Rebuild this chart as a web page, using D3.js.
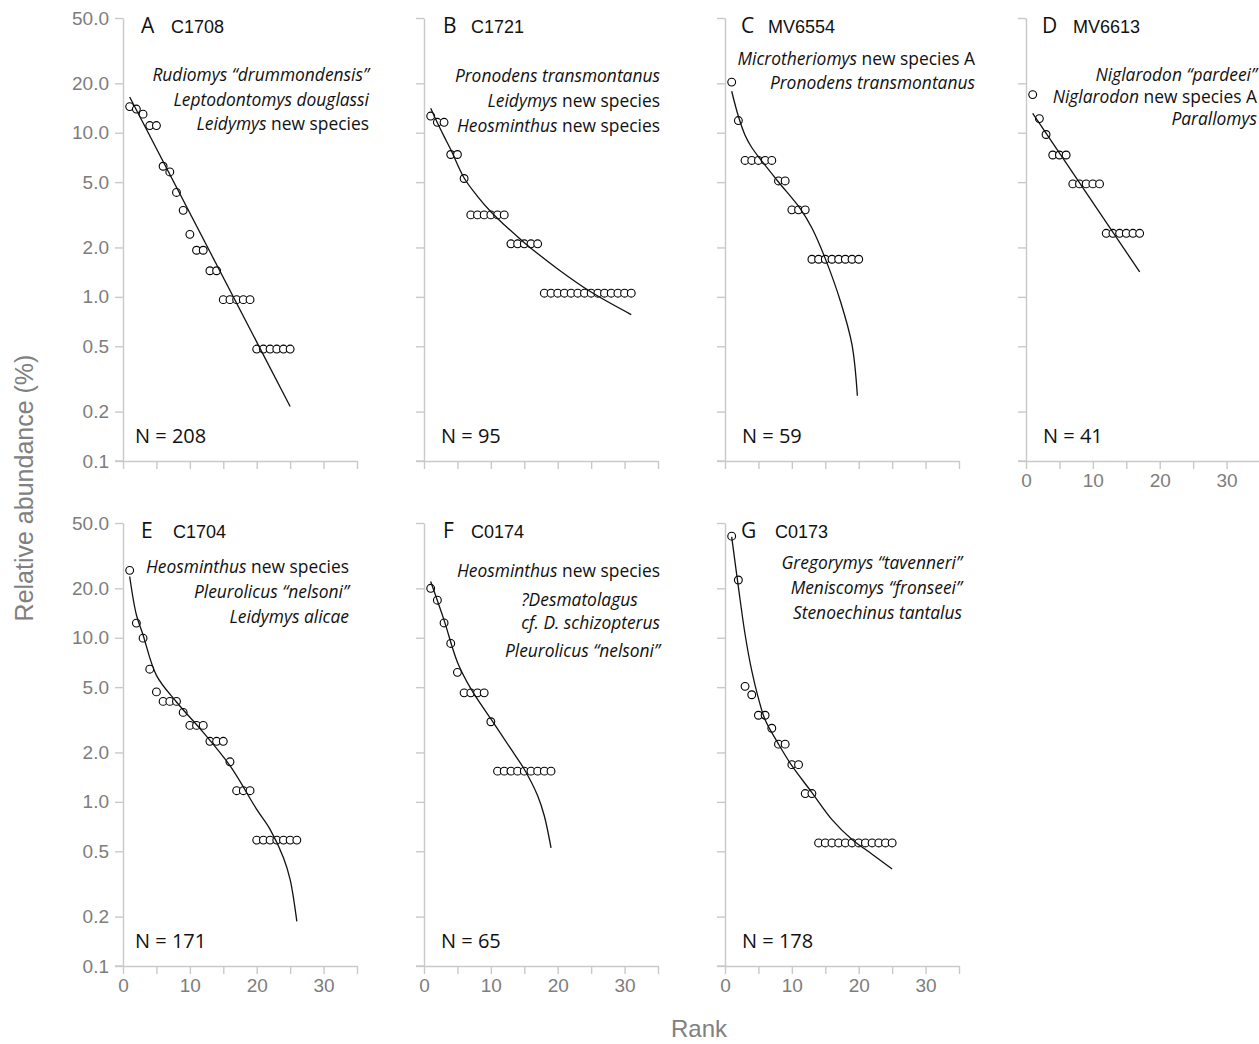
<!DOCTYPE html>
<html>
<head>
<meta charset="utf-8">
<script src="https://cdn.jsdelivr.net/npm/d3@7"></script>
<style>
  body { margin: 0; background: #fff; }
  svg { display: block; }
</style>
</head>
<body>
<svg id="chart" width="1259" height="1044"></svg>
<script>
// ---------------- DATA ----------------
const panelLetters = ["A", "B", "C", "D", "E", "F", "G"];
const localities = ["C1708", "C1721", "MV6554", "MV6613", "C1704", "C0174", "C0173"];
const sampleSizes = [208, 95, 59, 41, 171, 65, 178];

// specimen counts per species, in rank order (relative abundance = count / N)
const countsA = [30, 29, 27, 23, 23, 13, 12, 9, 7, 5, 4, 4, 3, 3, 2, 2, 2, 2, 2, 1, 1, 1, 1, 1, 1];
const countsB = [12, 11, 11, 7, 7, 5, 3, 3, 3, 3, 3, 3, 2, 2, 2, 2, 2, 1, 1, 1, 1, 1, 1, 1, 1, 1, 1, 1, 1, 1, 1];
const countsC = [12, 7, 4, 4, 4, 4, 4, 3, 3, 2, 2, 2, 1, 1, 1, 1, 1, 1, 1, 1];
const countsD = [7, 5, 4, 3, 3, 3, 2, 2, 2, 2, 2, 1, 1, 1, 1, 1, 1];
const countsE = [44, 21, 17, 11, 8, 7, 7, 7, 6, 5, 5, 5, 4, 4, 4, 3, 2, 2, 2, 1, 1, 1, 1, 1, 1, 1];
const countsF = [13, 11, 8, 6, 4, 3, 3, 3, 3, 2, 1, 1, 1, 1, 1, 1, 1, 1, 1];
const countsG = [74, 40, 9, 8, 6, 6, 5, 4, 4, 3, 3, 2, 2, 1, 1, 1, 1, 1, 1, 1, 1, 1, 1, 1, 1];

// fitted model curves (rank, relative abundance %)
const fitRanksA = [1, 25];
const fitValuesA = [16.5, 0.215];
const fitRanksB = [1, 2, 3, 4, 6, 8, 10, 12, 15, 20, 25, 31];
const fitValuesB = [14.1, 11.5, 9.5, 7.9, 5.3, 4.1, 3.3, 2.75, 2.14, 1.48, 1.07, 0.78];
const fitRanksC = [1, 2, 3, 4, 5.4, 8, 11.3, 13, 15, 17.3, 19, 19.8];
const fitValuesC = [17.9, 12.6, 9.66, 8.13, 6.81, 5.01, 3.43, 2.63, 1.71, 0.93, 0.51, 0.25];
const fitRanksD = [1, 17];
const fitValuesD = [13.1, 1.42];
const fitRanksE = [1, 2, 3, 5, 8, 12, 16, 20, 22, 24, 25, 26];
const fitValuesE = [23.6, 13.8, 10.4, 5.9, 4.06, 2.65, 1.66, 0.90, 0.68, 0.457, 0.336, 0.187];
const fitRanksF = [1, 3, 5, 7, 10, 13, 15, 17, 18, 19];
const fitValuesF = [22.0, 12.8, 7.1, 4.9, 3.2, 2.1, 1.58, 1.09, 0.82, 0.525];
const fitRanksG = [1, 2, 3, 4, 5, 6, 8, 10, 13, 16, 19, 22, 25];
const fitValuesG = [41.2, 20.4, 10.5, 6.3, 4.27, 3.16, 2.25, 1.66, 1.14, 0.78, 0.59, 0.48, 0.39];

// dominant species labels: each line is a list of [text, italic]
const speciesA = [[["Rudiomys \u201Cdrummondensis\u201D", true]], [["Leptodontomys douglassi", true]], [["Leidymys", true], [" new species", false]]];
const speciesB = [[["Pronodens transmontanus", true]], [["Leidymys", true], [" new species", false]], [["Heosminthus", true], [" new species", false]]];
const speciesC = [[["Microtheriomys", true], [" new species A", false]], [["Pronodens transmontanus", true]]];
const speciesD = [[["Niglarodon \u201Cpardeei\u201D", true]], [["Niglarodon", true], [" new species A", false]], [["Parallomys", true]]];
const speciesE = [[["Heosminthus", true], [" new species", false]], [["Pleurolicus \u201Cnelsoni\u201D", true]], [["Leidymys alicae", true]]];
const speciesF = [[["Heosminthus", true], [" new species", false]], [["?Desmatolagus", true]], [["cf. D. schizopterus", true]], [["Pleurolicus \u201Cnelsoni\u201D", true]]];
const speciesG = [[["Gregorymys \u201Ctavenneri\u201D", true]], [["Meniscomys \u201Cfronseei\u201D", true]], [["Stenoechinus tantalus", true]]];

const yTickValues = [50, 20, 10, 5, 2, 1, 0.5, 0.2, 0.1];
const xTickValues = [0, 5, 10, 15, 20, 25, 30, 35];
const xTickLabelValues = [0, 10, 20, 30];
const yAxisTitle = "Relative abundance (%)";
const xAxisTitle = "Rank";

// ---------------- LAYOUT (positions / styles) ----------------
const colX0 = [123, 424, 725, 1026];
const plotW = 234;
const rowY = [{ top: 18, bottom: 461 }, { top: 523, bottom: 966 }];
const panelCell = [[0, 0], [0, 1], [0, 2], [0, 3], [1, 0], [1, 1], [1, 2]];
const titleLetterX = [141, 443, 741, 1042, 141, 443, 741];
const titleCodeX = [171, 471, 768, 1073, 173, 471, 775];
const nLabelX = [135, 441, 742, 1043, 135, 441, 742];
const speciesRightX = [369, 660, 975, 1257, 349, 660, 962];
const speciesBaselines = [[81, 106, 130], [82, 107, 132], [65, 89], [81, 103, 125], [573, 598, 623], [577, 606, 629, 657], [569, 594, 619]];
const titleBaseline = [33, 538];
const nBaseline = [443, 948];

const humanist = "'Open Sans', 'Noto Sans', sans-serif";
const arial = "'Liberation Sans', Arial, sans-serif";
const axisColor = "#c9c9c9";
const tickTextColor = "#7d7d7d";

const allCounts = [countsA, countsB, countsC, countsD, countsE, countsF, countsG];
const allFitR = [fitRanksA, fitRanksB, fitRanksC, fitRanksD, fitRanksE, fitRanksF, fitRanksG];
const allFitV = [fitValuesA, fitValuesB, fitValuesC, fitValuesD, fitValuesE, fitValuesF, fitValuesG];
const allSpecies = [speciesA, speciesB, speciesC, speciesD, speciesE, speciesF, speciesG];

const svg = d3.select("#chart");

panelLetters.forEach((letter, i) => {
  const [row, col] = panelCell[i];
  const x0 = colX0[col];
  const x = d3.scaleLinear().domain([0, 35]).range([x0, x0 + plotW]);
  const y = d3.scaleLog().domain([0.1, 50]).range([rowY[row].bottom, rowY[row].top]);
  const g = svg.append("g");

  // y axis
  const yAxis = d3.axisLeft(y).tickValues(yTickValues).tickSize(8).tickSizeOuter(0).tickPadding(6)
    .tickFormat(col === 0 ? d3.format(".1f") : () => "");
  const ya = g.append("g").attr("transform", `translate(${x0},0)`).call(yAxis);
  // x axis
  const xAxis = d3.axisBottom(x).tickValues(xTickValues).tickSize(8).tickSizeOuter(0).tickPadding(5)
    .tickFormat(d => (xTickLabelValues.includes(d) && (row === 1 || col === 3)) ? d : "");
  const xa = g.append("g").attr("transform", `translate(0,${rowY[row].bottom})`).call(xAxis);
  [ya, xa].forEach(a => {
    a.selectAll("path.domain").attr("stroke", axisColor).attr("stroke-width", 1.4);
    a.selectAll(".tick line").attr("stroke", axisColor).attr("stroke-width", 1.4);
    a.selectAll(".tick text").attr("fill", tickTextColor).style("font-family", arial).style("font-size", "19px");
  });
  // extend x-axis line left to meet the 0.1 tick
  g.append("line").attr("x1", x0 - 8).attr("x2", x0).attr("y1", rowY[row].bottom).attr("y2", rowY[row].bottom)
    .attr("stroke", axisColor).attr("stroke-width", 1.4);

  // points
  const N = sampleSizes[i];
  const pts = allCounts[i].map((c, k) => ({ rank: k + 1, value: c / N * 100 }));
  g.selectAll("circle.pt").data(pts).enter().append("circle")
    .attr("class", "pt")
    .attr("cx", d => x(d.rank)).attr("cy", d => y(d.value)).attr("r", 3.9)
    .attr("fill", "#fff").attr("stroke", "#000").attr("stroke-width", 1.1);

  // fitted curve
  const fit = allFitR[i].map((r, k) => ({ rank: r, value: allFitV[i][k] }));
  const line = d3.line().x(d => x(d.rank)).y(d => y(d.value)).curve(d3.curveCatmullRom.alpha(0.5));
  g.append("path").datum(fit).attr("d", line).attr("fill", "none").attr("stroke", "#111").attr("stroke-width", 1.3);

  // titles
  g.append("text").attr("x", titleLetterX[i]).attr("y", titleBaseline[row]).text(letter)
    .style("font-family", humanist).style("font-size", "21px").attr("fill", "#111");
  g.append("text").attr("x", titleCodeX[i]).attr("y", titleBaseline[row]).text(localities[i])
    .style("font-family", arial).style("font-size", "18px").attr("fill", "#111");

  // species
  allSpecies[i].forEach((lineSegs, k) => {
    const t = g.append("text").attr("y", speciesBaselines[i][k])
      .style("font-family", humanist).style("font-size", "17.4px").attr("fill", "#111");
    lineSegs.forEach(([txt, it]) => {
      t.append("tspan").text(txt).style("font-style", it ? "italic" : "normal");
    });
    t.attr("x", speciesRightX[i]).attr("text-anchor", "end");
  });
  // F: "?Desmatolagus" left-aligned with "cf. D. schizopterus"
  if (letter === "F") {
    const nodes = g.selectAll("text").nodes();
    const cf = nodes.find(n => n.textContent === "cf. D. schizopterus");
    const des = nodes.find(n => n.textContent === "?Desmatolagus");
    const bx = cf.getBBox().x;
    d3.select(des).attr("text-anchor", "start").attr("x", bx);
  }

  // N label
  g.append("text").attr("x", nLabelX[i]).attr("y", nBaseline[row]).text(`N = ${N}`)
    .style("font-family", humanist).style("font-size", "20px").attr("fill", "#111");
});

// axis titles
svg.append("text").attr("transform", "translate(33,488) rotate(-90)").attr("text-anchor", "middle")
  .text(yAxisTitle).style("font-family", arial).style("font-size", "25px").attr("fill", "#808080");
svg.append("text").attr("x", 699).attr("y", 1037).attr("text-anchor", "middle")
  .text(xAxisTitle).style("font-family", arial).style("font-size", "24px").attr("fill", "#808080");
</script>
</body>
</html>
